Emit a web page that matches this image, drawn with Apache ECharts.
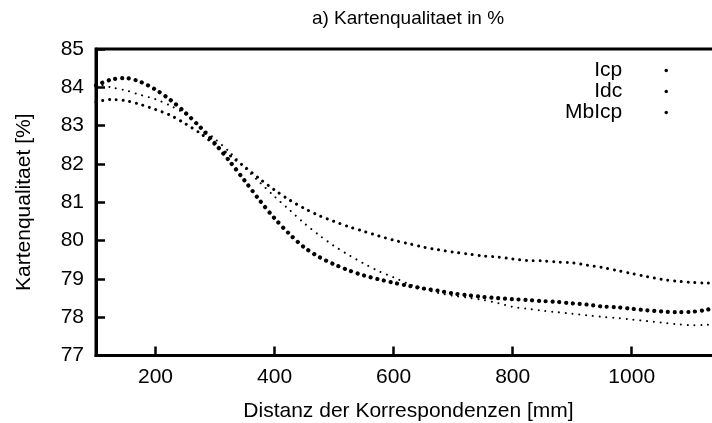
<!DOCTYPE html>
<html>
<head>
<meta charset="utf-8">
<script src="https://cdn.jsdelivr.net/npm/echarts@6/dist/echarts.min.js"></script>
<style>
html,body{margin:0;padding:0;background:#fff;}
#chart{width:712px;height:423px;}
</style>
</head>
<body>
<div id="chart"></div>
<script>
// Distance of correspondences [mm]
const distances = [100,125,150,175,200,225,250,275,300,325,350,375,400,425,450,475,500,525,550,575,600,625,650,675,700,725,750,775,800,825,850,875,900,925,950,975,1000,1025,1050,1075,1100,1125,1150];
// Map quality [%]
const icp = [84.10,84.00,83.92,83.80,83.69,83.52,83.30,82.98,82.65,82.30,81.90,81.52,81.15,80.80,80.45,80.14,79.86,79.62,79.40,79.20,79.04,78.87,78.74,78.63,78.56,78.51,78.45,78.37,78.27,78.22,78.17,78.13,78.09,78.05,78.01,77.98,77.94,77.90,77.86,77.82,77.79,77.80,77.84];
const idc = [83.62,83.68,83.65,83.55,83.42,83.27,83.05,82.80,82.50,82.22,81.92,81.61,81.32,81.06,80.84,80.65,80.50,80.36,80.24,80.12,80.01,79.92,79.83,79.76,79.70,79.65,79.60,79.57,79.52,79.48,79.47,79.44,79.42,79.36,79.30,79.22,79.14,79.06,78.99,78.94,78.91,78.89,78.89];
const mbicp = [84.05,84.20,84.24,84.14,83.94,83.67,83.34,82.96,82.53,82.06,81.56,81.05,80.58,80.17,79.82,79.57,79.38,79.22,79.09,78.99,78.90,78.82,78.75,78.69,78.62,78.57,78.53,78.50,78.47,78.45,78.42,78.40,78.36,78.33,78.28,78.26,78.22,78.18,78.15,78.13,78.14,78.19,78.30];
const seriesNames = ['Icp','Idc','MbIcp'];
const xTickValues = [200,400,600,800,1000];

const FONT = "'Liberation Sans', Arial, Helvetica, sans-serif";
const chart = echarts.init(document.getElementById('chart'), null, {renderer:'canvas'});

function pairs(ys){ return distances.map((x,i)=>[x, ys[i]]); }
function dotted(name, ys, w){
  return {
    name: name, type:'line', data: pairs(ys), showSymbol:false, symbol:'none',
    smooth: 0.3, animation:false,
    lineStyle:{color:'#000', width:w, type:[0.01, 6.8], cap:'round'},
    itemStyle:{color:'#000'}
  };
}

chart.setOption({
  animation:false,
  backgroundColor:'#fff',
  textStyle:{fontFamily:FONT},
  title:{
    text:'a) Kartenqualitaet in %', left:408, top:9, textAlign:'center', padding:0,
    textStyle:{fontFamily:FONT, fontSize:19, fontWeight:'normal', color:'#000'}
  },
  legend:{
    orient:'vertical', align:'right', right:44, top:60, padding:0,
    itemWidth:78, itemHeight:3.5, itemGap:0, icon:'circle',
    data: seriesNames,
    textStyle:{fontFamily:FONT, fontSize:21, color:'#000', lineHeight:21}
  },
  grid:{left:96, top:49, right:-9, bottom:67.5, show:true, borderColor:'#000', borderWidth:3, containLabel:false, outerBoundsMode:'none'},
  xAxis:{
    type:'value', min:100, max:1150,
    name:'Distanz der Korrespondenzen [mm]', nameLocation:'middle', nameGap:45,
    nameTextStyle:{fontFamily:FONT, fontSize:21, color:'#000'},
    axisLine:{show:true, onZero:false, lineStyle:{color:'#000', width:3}},
    axisTick:{show:true, inside:true, length:9, customValues:xTickValues, lineStyle:{color:'#000', width:2.5}},
    axisLabel:{show:true, margin:11, customValues:xTickValues, formatter:function(v){return String(v);}, fontFamily:FONT, fontSize:21, color:'#000'},
    splitLine:{show:false}
  },
  yAxis:{
    type:'value', min:77, max:85, interval:1,
    name:'Kartenqualitaet [%]', nameLocation:'middle', nameGap:61, nameRotate:90,
    nameTextStyle:{fontFamily:FONT, fontSize:21, color:'#000'},
    axisLine:{show:true, lineStyle:{color:'#000', width:3}},
    axisTick:{show:true, inside:true, length:9, lineStyle:{color:'#000', width:2.5}},
    axisLabel:{show:true, margin:12, fontFamily:FONT, fontSize:21, color:'#000'},
    splitLine:{show:false}
  },
  series:[
    dotted('Icp', icp, 2),
    dotted('Idc', idc, 3),
    dotted('MbIcp', mbicp, 4.2)
  ]
});
</script>
</body>
</html>
